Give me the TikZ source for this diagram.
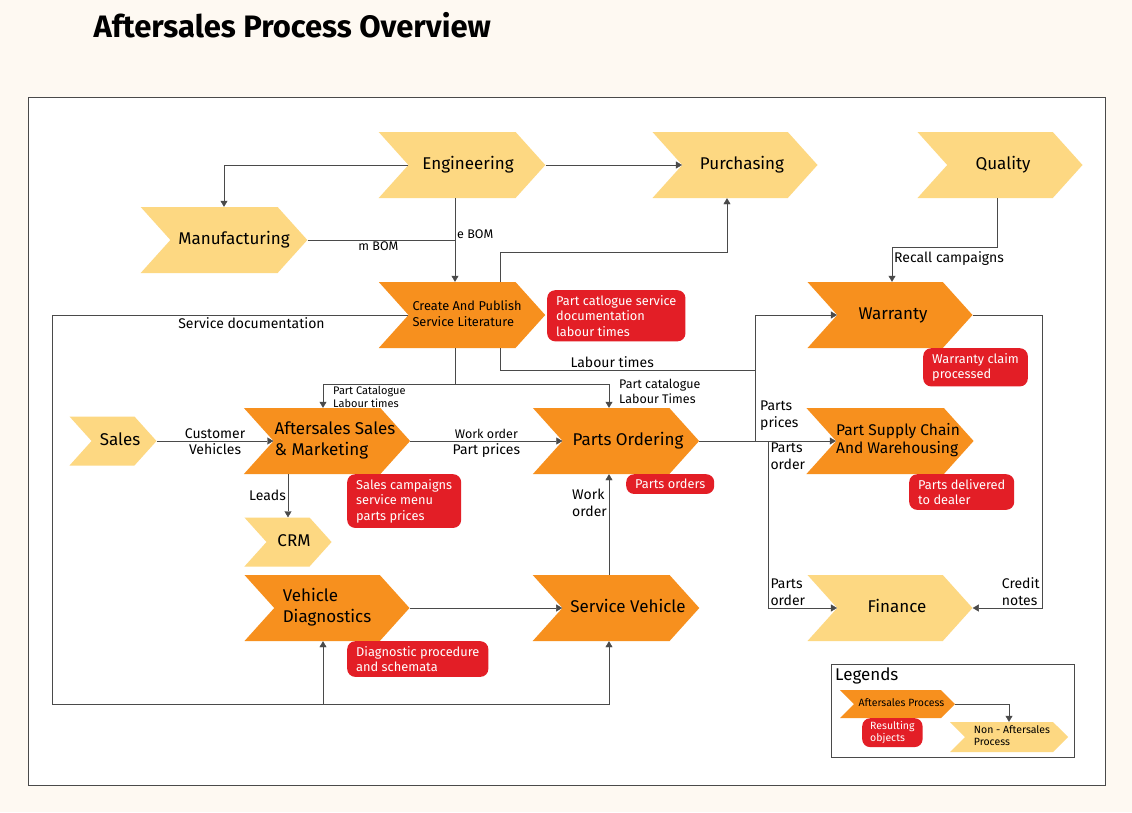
\documentclass[tikz,border=0pt]{standalone}
\usepackage{fontspec}
\setmainfont{Fira Sans}
\usetikzlibrary{shapes.symbols, arrows.meta}
\definecolor{procorange}{HTML}{F7901E}
\definecolor{extyellow}{HTML}{FDD882}
\definecolor{objred}{HTML}{E31E26}
\definecolor{linegray}{HTML}{4A4A4A}
\definecolor{pagecream}{HTML}{FEF9F2}
% text inside a chevron, pushed right by half of the first argument
\newcommand{\chevtext}[2][12pt]{\hspace*{#1}\begin{tabular}{@{}l@{}}#2\end{tabular}}

\begin{document}
\begin{tikzpicture}[x=1pt, y=-1pt,
  proc/.style={signal, signal from=west, signal to=east, signal pointer angle=96,
    fill=procorange, minimum width=165pt, minimum height=66pt, inner sep=2pt,
    font=\fontsize{17}{21}\selectfont},
  ext/.style={proc, fill=extyellow},
  smallchev/.style={minimum width=87pt, minimum height=49pt},
  obj/.style={fill=objred, text=white, rounded corners=8pt, align=left, anchor=north west,
    inner xsep=9pt, inner ysep=5pt, font=\fontsize{12.8}{15.5}\selectfont},
  arr/.style={draw=linegray, -{Triangle[length=6pt, width=7pt]}},
  conn/.style={draw=linegray},
  lbl/.style={inner sep=2pt, align=left, font=\fontsize{14}{17}\selectfont},
  tinylbl/.style={lbl, font=\fontsize{11}{12.5}\selectfont}]
% page and frame
\fill[pagecream] (0,0) rectangle (1132,812);
\draw[linegray, fill=white] (28,97) rectangle (1105,785);
\node[anchor=west, font=\fontsize{31}{35}\selectfont\bfseries] (title) at (90,25) {Aftersales Process Overview};

% processes
\node[ext] (eng) at (462,165) {\chevtext{Engineering}};
\node[ext] (pur) at (735,165) {\chevtext[14pt]{Purchasing}};
\node[ext] (qual) at (1000,165) {\chevtext[6pt]{Quality}};
\node[ext, inner xsep=-12pt] (manu) at (224,240) {\chevtext[20pt]{Manufacturing}};
\node[proc, inner xsep=-6pt, font=\fontsize{12.8}{16}\selectfont] (create) at (462,315) {\chevtext[10pt]{Create And Publish\\Service Literature}};
\node[proc] (warr) at (890,315) {\chevtext[6pt]{Warranty}};
\node[ext, smallchev, inner xsep=-6pt] (sales) at (113,441) {\chevtext[14pt]{Sales}};
\node[proc, inner xsep=-15pt] (asm) at (327,441) {\chevtext[16pt]{Aftersales Sales\\\& Marketing}};
\node[proc, inner xsep=-14pt] (pord) at (616,441) {\chevtext[24pt]{Parts Ordering}};
\node[proc, inner xsep=-16pt, font=\fontsize{15.5}{18.5}\selectfont] (psc) at (890,441) {\chevtext[16pt]{Part Supply Chain\\And Warehousing}};
\node[ext, smallchev, inner xsep=-1pt] (crm) at (288,542) {\chevtext{CRM}};
\node[proc] (vdiag) at (327,608) {\chevtext[0pt]{Vehicle\\Diagnostics}};
\node[proc, inner xsep=-16pt] (svc) at (616,608) {\chevtext[24pt]{Service Vehicle}};
\node[ext] (fin) at (890,608) {\chevtext[14pt]{Finance}};

% resulting objects
\node[obj] (rcreate) at (547,290) {Part catlogue service\\documentation\\labour times};
\node[obj] (rwarr) at (923,348) {Warranty claim\\processed};
\node[obj] (rasm) at (347,474) {Sales campaigns\\service menu\\parts prices};
\node[obj] (rpord) at (626,474) {Parts orders};
\node[obj] (rpsc) at (909,474) {Parts delivered\\to dealer};
\node[obj] (rvdiag) at (347,641) {Diagnostic procedure\\and schemata};

% flows
\foreach \a/\b in {eng/pur, vdiag/svc, pord/psc}{\draw[arr] (\a.east) -- (\b.west);}
\draw[arr] (eng.west) -| (manu.north);
\coordinate (ebom) at ([xshift=-7pt]eng.south);
\draw[arr] (ebom) -- node[lbl, right, pos=0.43, font=\fontsize{12.5}{14}\selectfont]{e BOM} (ebom |- create.north);
\draw[conn] (manu.east) -- node[lbl, below, pos=0.48, font=\fontsize{12.5}{14}\selectfont]{m BOM} (manu.east -| ebom);
\draw[arr] ([xshift=38pt]create.north) -- ++(0,-30) -| ([xshift=-8pt]pur.south);
\draw[arr] ([xshift=-3pt]qual.south) -- ++(0,49) -| node[lbl, pos=0.5, anchor=north west, yshift=-2pt]{Recall campaigns} ([xshift=2pt]warr.north);

\coordinate (sdcorner) at (52,704);
\draw[arr] (create.west) -| node[lbl, below, pos=0.22]{Service documentation} (sdcorner) -| ([xshift=-7pt]svc.south);
\coordinate (vdin) at ([xshift=-4pt]vdiag.south);
\draw[arr] (vdin |- sdcorner) -- (vdin);

\coordinate (lt) at (755,370);
\draw[conn] ([xshift=38pt]create.south) |- node[lbl, above, pos=0.72]{Labour times} (lt);
\draw[arr] (lt |- pord.east) -- node[lbl, right, pos=0.2, xshift=3pt]{Parts\\prices} (lt |- warr.west) -- (warr.west);
\coordinate (po) at ([xshift=69pt]pord.east);
\draw[arr] (po) node[lbl, anchor=north west]{Parts\\order} |- node[lbl, pos=0.5, anchor=south west]{Parts\\order} (fin.west);
\draw[arr] (warr.east) -| ([xshift=69pt]fin.east) node[lbl, anchor=south east]{Credit\\notes} -- (fin.east);

\draw[conn] ([xshift=-7pt]create.south) -- ++(0,36) coordinate (pc);
\draw[arr] (pc) -| node[tinylbl, pos=0.5, anchor=north west, xshift=8pt]{Part Catalogue\\Labour times} ([xshift=-4pt]asm.north);
\draw[arr] (pc) -| node[lbl, pos=0.5, anchor=west, yshift=-7pt, xshift=8pt, font=\fontsize{12.5}{14.5}\selectfont]{Part catalogue\\Labour Times} ([xshift=-7pt]pord.north);

\draw[arr] (sales.east) -- node[lbl, above]{Customer} node[lbl, below]{Vehicles} (asm.west);
\draw[arr] (asm.east) -- node[lbl, above, font=\fontsize{12.5}{14}\selectfont]{Work order} node[lbl, below]{Part prices} (pord.west);
\draw[arr] (crm.north |- asm.south) -- node[lbl, left]{Leads} (crm.north);
\draw[arr] ([xshift=-7pt]svc.north) -- node[lbl, left, pos=0.72]{Work\\order} ([xshift=-7pt]pord.south);

% legend
\draw[linegray] (831,664) rectangle (1074,757);
\node[lbl, anchor=north west, font=\fontsize{17}{19}\selectfont] (legtitle) at (833,666) {Legends};
\node[proc, minimum width=115pt, minimum height=28pt, signal pointer angle=90, inner xsep=-4pt, font=\fontsize{10.5}{12}\selectfont] (lgo) at (897.5,704) {\chevtext[8pt]{Aftersales Process}};
\node[obj, inner xsep=8pt, inner ysep=3pt, font=\fontsize{10.5}{12.5}\selectfont] (lgr) at (862,718) {Resulting\\objects};
\node[ext, minimum width=118pt, minimum height=30pt, signal pointer angle=90, font=\fontsize{10.5}{12}\selectfont] (lgy) at (1009,737) {\chevtext[6pt]{Non - Aftersales\\Process}};
\draw[arr] (lgo.east) -| (lgy.north);
\end{tikzpicture}
\end{document}
